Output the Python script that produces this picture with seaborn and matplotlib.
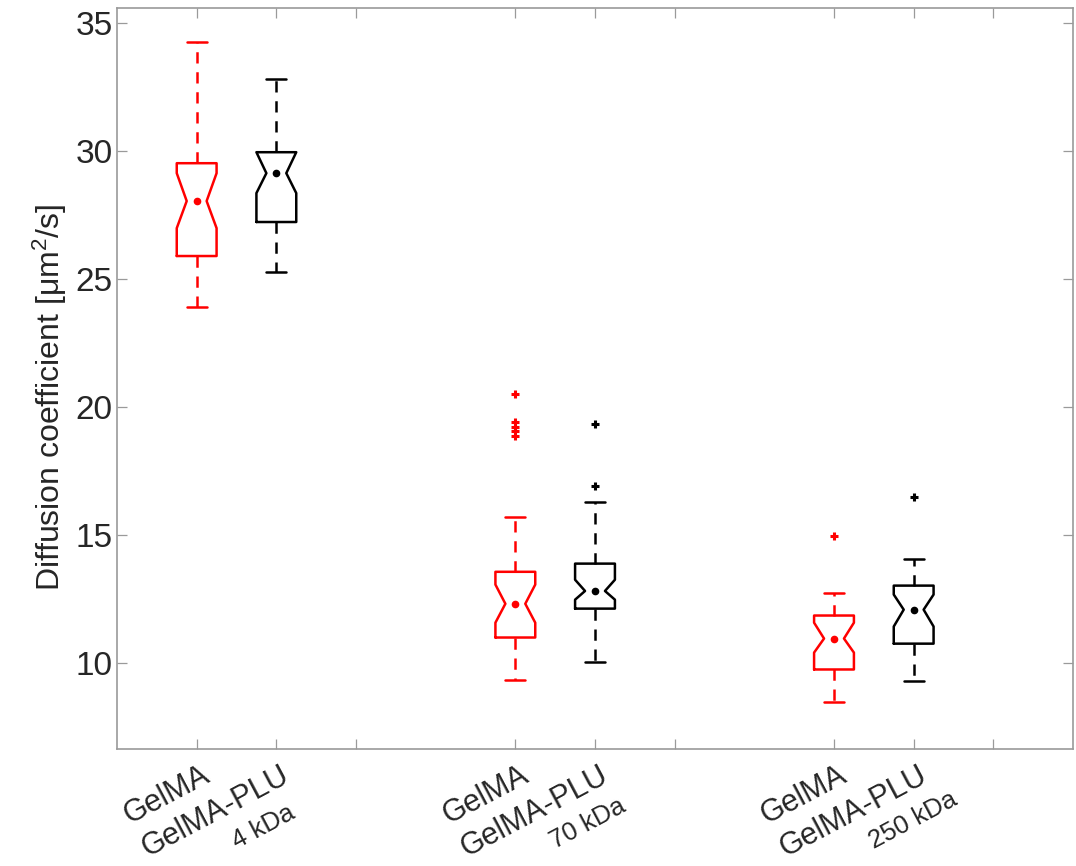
import matplotlib
matplotlib.use("Agg")
import matplotlib.pyplot as plt
import seaborn as sns

# ---- data ----
positions = [1, 2, 5, 6, 9, 10]
materials = ["GelMA", "GelMA-PLU", "GelMA", "GelMA-PLU", "GelMA", "GelMA-PLU"]
sizes = ["4 kDa", "70 kDa", "250 kDa"]
size_pos = [2, 6, 10]
box_colors = ["#FF0000", "#000000", "#FF0000", "#000000", "#FF0000", "#000000"]

whislo = [23.91, 25.27, 9.30, 10.04, 8.44, 9.26]
q1 = [25.90, 27.23, 10.98, 12.11, 9.73, 10.74]
med = [28.05, 29.14, 12.30, 12.80, 10.94, 12.07]
q3 = [29.53, 29.96, 13.55, 13.87, 11.84, 13.01]
whishi = [34.26, 32.81, 15.70, 16.29, 12.73, 14.06]
ci_lo = [26.99, 28.36, 11.56, 12.46, 10.39, 11.41]
ci_hi = [29.14, 29.96, 13.05, 13.24, 11.56, 12.66]
fliers = [[], [], [20.51, 19.40, 19.22, 19.04, 18.88], [19.34, 16.92], [14.96], [16.48]]

yticks = [10, 15, 20, 25, 30, 35]
xticks = [1, 2, 3, 5, 6, 7, 9, 10, 11]

sns.set_theme(style="white")
plt.rcParams["font.family"] = ["Liberation Sans", "DejaVu Sans"]
plt.rcParams["mathtext.default"] = "regular"

TXT = "#262626"
AX = "#9a9a9a"

fig = plt.figure(figsize=(10.76, 8.66), dpi=100)
ax = fig.add_axes([117 / 1076, 1 - 749 / 866, 956 / 1076, 741 / 866])

for i in range(len(positions)):
    st = dict(med=med[i], q1=q1[i], q3=q3[i], whislo=whislo[i], whishi=whishi[i],
              cilo=ci_lo[i], cihi=ci_hi[i], fliers=fliers[i], mean=med[i])
    c = box_colors[i]
    ax.bxp([st], positions=[positions[i]], widths=0.5, shownotches=True,
           showmeans=True, showfliers=True, patch_artist=False,
           boxprops=dict(color=c, linewidth=1.8),
           whiskerprops=dict(color=c, linewidth=1.8, linestyle=(0, (4.5, 3.5))),
           capprops=dict(color=c, linewidth=1.8),
           medianprops=dict(linestyle="none"),
           meanprops=dict(marker="o", markersize=4.5, markerfacecolor=c,
                          markeredgecolor=c, linestyle="none"),
           flierprops=dict(marker="+", markersize=6, markeredgewidth=2.2,
                           markeredgecolor=c, linestyle="none"),
           manage_ticks=False)

ax.set_xlim(0, 12)
ax.set_ylim(6.62, 35.6)
ax.set_yticks(yticks)
ax.set_yticklabels([str(v) for v in yticks])
ax.set_xticks(xticks)
ax.set_xticklabels([""] * len(xticks))

for s in ax.spines.values():
    s.set_visible(True)
    s.set_color(AX)
    s.set_linewidth(1.2)
ax.tick_params(axis="both", which="both", direction="in", length=7, width=0.9,
               color=AX, top=True, right=True, left=True, bottom=True,
               labelsize=24, labelcolor=TXT, pad=3)

ax.set_ylabel("Diffusion coefficient [μm$^{2}$/s]", fontsize=23, color=TXT)
ax.yaxis.set_label_coords(-0.05, 0.475)

ROT = 28
xtr = ax.get_xaxis_transform()
for p, m in zip(positions, materials):
    ax.annotate(m, xy=(p, 0), xycoords=xtr, xytext=(3, -8), textcoords="offset points",
                rotation=ROT, rotation_mode="anchor", ha="right", va="top",
                fontsize=22, color=TXT, annotation_clip=False)
for p, s in zip(size_pos, sizes):
    ax.annotate(s, xy=(p, 0), xycoords=xtr, xytext=(-35, -60), textcoords="offset points",
                rotation=ROT, rotation_mode="anchor", ha="left", va="top",
                fontsize=18.5, color=TXT, annotation_clip=False)

fig.savefig("out.png", dpi=100, facecolor="white")
